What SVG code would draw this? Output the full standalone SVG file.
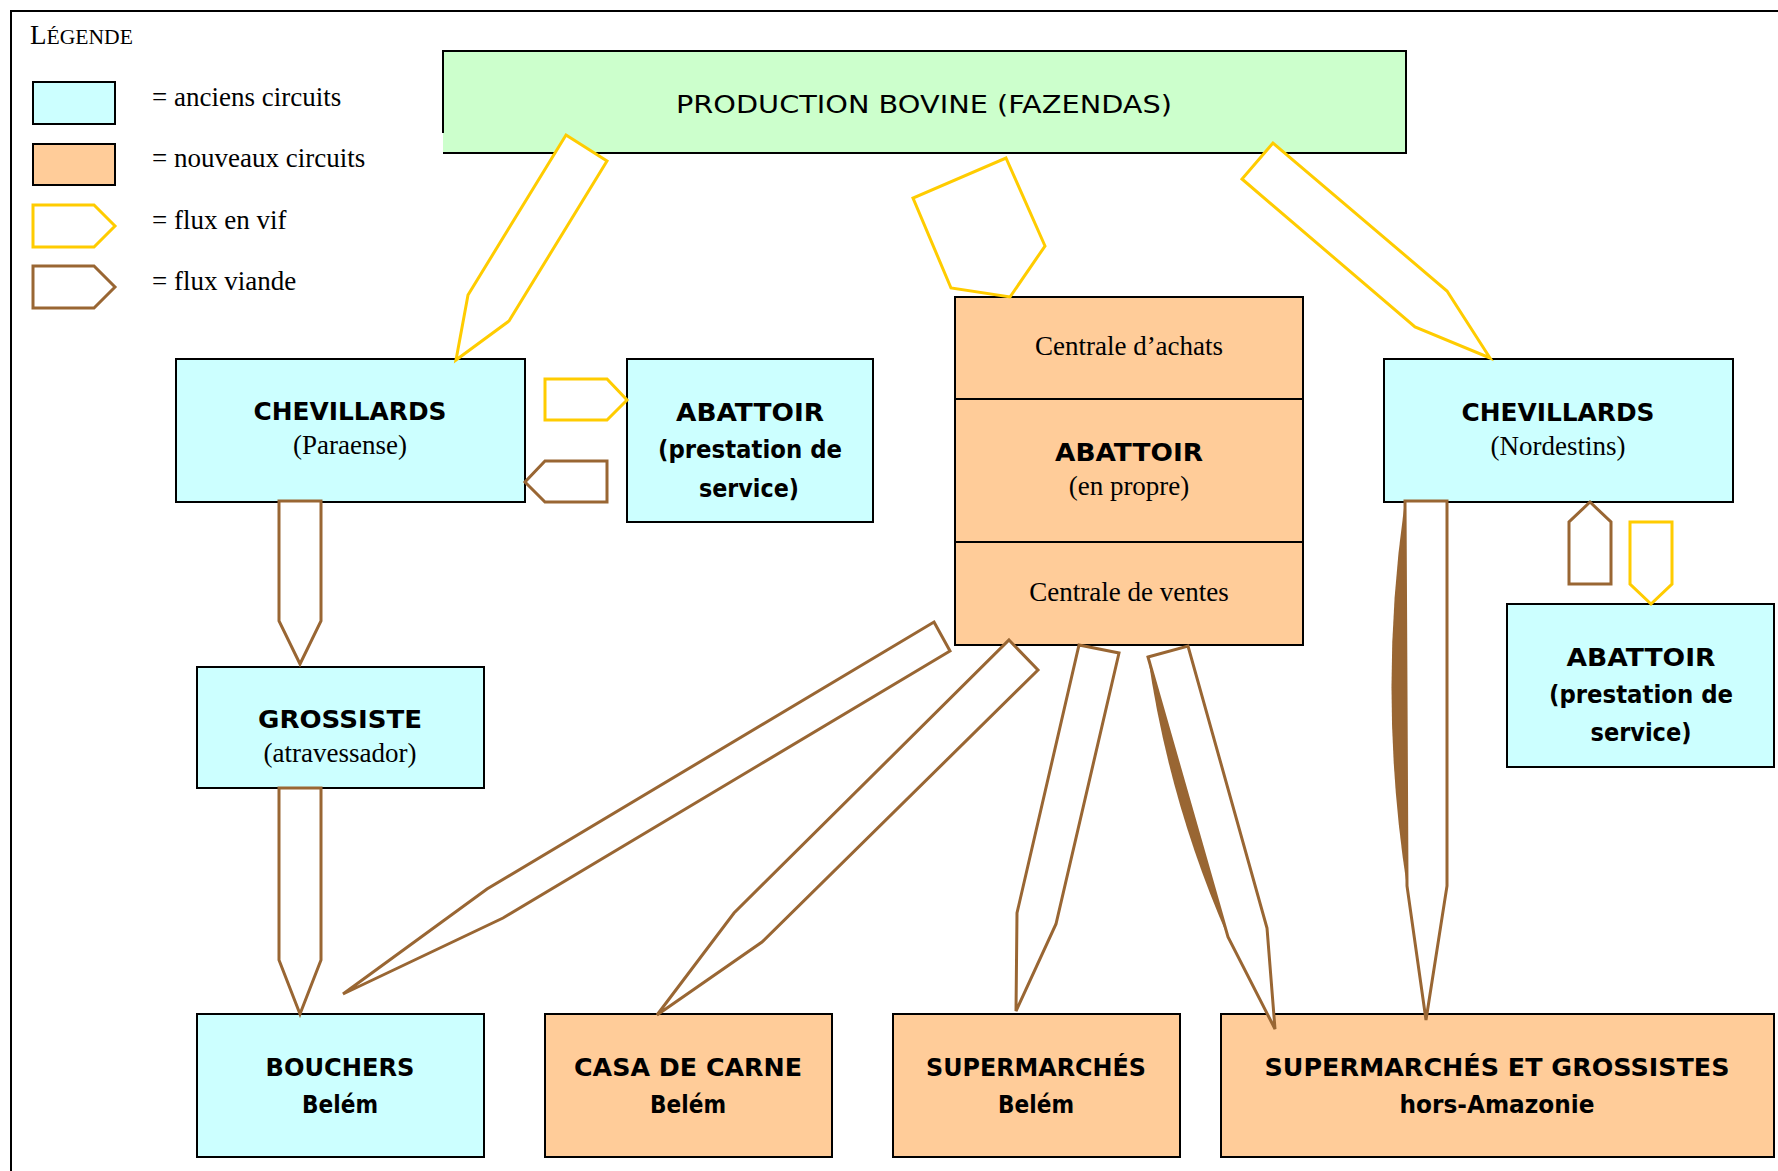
<svg xmlns="http://www.w3.org/2000/svg" width="1778" height="1171" viewBox="0 0 1778 1171">
<defs>
<style>
.box{stroke:#000;stroke-width:2}
.old{fill:#CCFFFF}
.new{fill:#FFCC99}
.prod{fill:#CCFFCC}
.vif{fill:#fff;stroke:#FFCC00;stroke-width:3;stroke-linejoin:miter}
.vi{fill:#fff;stroke:#996633;stroke-width:3;stroke-linejoin:miter}
.sliver{fill:#996633}
.t{font-family:"DejaVu Sans",Verdana,sans-serif;font-weight:bold;font-size:25px;text-anchor:middle;fill:#000}
.tn{font-weight:normal}
.s{font-family:"Liberation Serif","Times New Roman",serif;font-size:27px;fill:#000}
.c{text-anchor:middle}
</style>
</defs>
<rect width="1778" height="1171" fill="#fff"/>
<path d="M11,1171 V11 H1778" fill="none" stroke="#000" stroke-width="2"/>

<g id="legend">
<text class="s" x="30" y="44"><tspan font-size="27">L</tspan><tspan font-size="21.6">ÉGENDE</tspan></text>
<rect class="box old" x="33" y="82" width="82" height="42"/>
<rect class="box new" x="33" y="144" width="82" height="41"/>
<polygon class="vif" points="33,205 94,205 115,226 94,247 33,247"/>
<polygon class="vi" points="33,266 94,266 115,287 94,308 33,308"/>
<text class="s" x="152" y="106">= anciens circuits</text>
<text class="s" x="152" y="167">= nouveaux circuits</text>
<text class="s" x="152" y="229">= flux en vif</text>
<text class="s" x="152" y="290">= flux viande</text>
</g>

<g id="production">
<rect class="prod" x="443" y="51" width="963" height="102"/>
<path d="M443,133 V51 H1406 V153 H443" fill="none" stroke="#000" stroke-width="2"/>
<text class="t tn" x="924" y="113" textLength="496" lengthAdjust="spacingAndGlyphs">PRODUCTION BOVINE (FAZENDAS)</text>
</g>

<g id="chevillards-paraense">
<rect class="box old" x="176" y="359" width="349" height="143"/>
<text class="t" x="350" y="420" textLength="193" lengthAdjust="spacingAndGlyphs">CHEVILLARDS</text>
<text class="s c" x="350" y="454">(Paraense)</text>
</g>

<g id="abattoir-paraense">
<rect class="box old" x="627" y="359" width="246" height="163"/>
<text class="t" x="750" y="421" textLength="148" lengthAdjust="spacingAndGlyphs">ABATTOIR</text>
<text class="t" x="750" y="458" textLength="184" lengthAdjust="spacingAndGlyphs">(prestation de</text>
<text class="t" x="749" y="497" textLength="100" lengthAdjust="spacingAndGlyphs">service)</text>
</g>

<g id="abattoir-propre">
<rect class="box new" x="955" y="297" width="348" height="348"/>
<line x1="955" y1="399" x2="1303" y2="399" stroke="#000" stroke-width="2"/>
<line x1="955" y1="542" x2="1303" y2="542" stroke="#000" stroke-width="2"/>
<text class="s c" x="1129" y="355">Centrale d’achats</text>
<text class="t" x="1129" y="461" textLength="148" lengthAdjust="spacingAndGlyphs">ABATTOIR</text>
<text class="s c" x="1129" y="495">(en propre)</text>
<text class="s c" x="1129" y="601">Centrale de ventes</text>
</g>

<g id="chevillards-nordestins">
<rect class="box old" x="1384" y="359" width="349" height="143"/>
<text class="t" x="1558" y="421" textLength="193" lengthAdjust="spacingAndGlyphs">CHEVILLARDS</text>
<text class="s c" x="1558" y="455">(Nordestins)</text>
</g>

<g id="abattoir-nordestins">
<rect class="box old" x="1507" y="604" width="267" height="163"/>
<text class="t" x="1641" y="666" textLength="149" lengthAdjust="spacingAndGlyphs">ABATTOIR</text>
<text class="t" x="1641" y="703" textLength="184" lengthAdjust="spacingAndGlyphs">(prestation de</text>
<text class="t" x="1641" y="741" textLength="101" lengthAdjust="spacingAndGlyphs">service)</text>
</g>

<g id="grossiste">
<rect class="box old" x="197" y="667" width="287" height="121"/>
<text class="t" x="340" y="728" textLength="164" lengthAdjust="spacingAndGlyphs">GROSSISTE</text>
<text class="s c" x="340" y="762">(atravessador)</text>
</g>

<g id="bouchers">
<rect class="box old" x="197" y="1014" width="287" height="143"/>
<text class="t" x="340" y="1076" textLength="149" lengthAdjust="spacingAndGlyphs">BOUCHERS</text>
<text class="t" x="340" y="1113" textLength="76" lengthAdjust="spacingAndGlyphs">Belém</text>
</g>

<g id="casa-de-carne">
<rect class="box new" x="545" y="1014" width="287" height="143"/>
<text class="t" x="688" y="1076" textLength="228" lengthAdjust="spacingAndGlyphs">CASA DE CARNE</text>
<text class="t" x="688" y="1113" textLength="76" lengthAdjust="spacingAndGlyphs">Belém</text>
</g>

<g id="supermarches-belem">
<rect class="box new" x="893" y="1014" width="287" height="143"/>
<text class="t" x="1036" y="1076" textLength="220" lengthAdjust="spacingAndGlyphs">SUPERMARCHÉS</text>
<text class="t" x="1036" y="1113" textLength="76" lengthAdjust="spacingAndGlyphs">Belém</text>
</g>

<g id="supermarches-hors-amazonie">
<rect class="box new" x="1221" y="1014" width="553" height="143"/>
<text class="t" x="1497" y="1076" textLength="465" lengthAdjust="spacingAndGlyphs">SUPERMARCHÉS ET GROSSISTES</text>
<text class="t" x="1497" y="1113" textLength="195" lengthAdjust="spacingAndGlyphs">hors-Amazonie</text>
</g>

<g id="connectors">
<polygon class="vif" points="566,135 607,161 509,321 456,360 468,295"/>
<polygon class="vif" points="1006,158 1045,246 1010,297 951,288 913,198"/>
<polygon class="vif" points="1273,143 1242,179 1415,327 1490,358 1447,291"/>
<polygon class="vif" points="545,379 607,379 627,400 607,420 545,420"/>
<polygon class="vi" points="607,461 607,502 545,502 525,482 545,461"/>
<polygon class="vi" points="279,501 321,501 321,621 300,664 279,621"/>
<polygon class="vi" points="279,788 321,788 321,960 300,1014 279,960"/>
<polygon class="vi" points="1569,584 1611,584 1611,522 1590,502 1569,522"/>
<polygon class="vif" points="1630,522 1672,522 1672,584 1651,604 1630,584"/>
<path class="sliver" d="M1405,501 Q1377,694 1407,887 Z"/>
<polygon class="vi" points="1405,501 1447,501 1447,886 1426,1020 1407,886"/>
<polygon class="vi" points="934,622 950,651 503,918 343,994 487,889"/>
<polygon class="vi" points="1009,640 1038,670 762,942 657,1015 734,913"/>
<polygon class="vi" points="1079,645 1119,653 1056,924 1016,1011 1017,913"/>
<path class="sliver" d="M1148,657 Q1169,802 1228,937 Z"/>
<polygon class="vi" points="1148,657 1188,646 1267,928 1275,1029 1228,937"/>
</g>
</svg>
